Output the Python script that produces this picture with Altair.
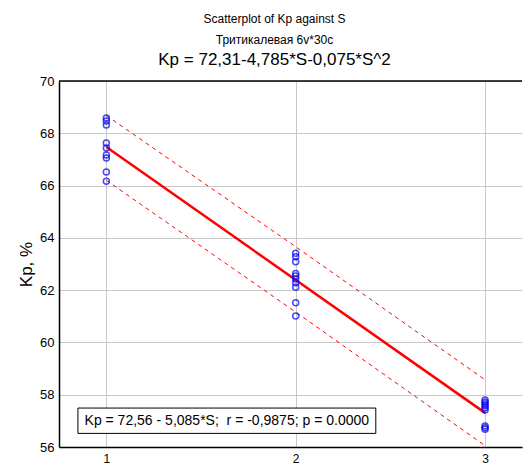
import altair as alt
import pandas as pd

# --- data ---
s_groups = [1, 2, 3]
kp_s1 = [68.58, 68.47, 68.32, 67.63, 67.44, 67.17, 67.05, 66.52, 66.17]
kp_s2 = [63.41, 63.28, 63.09, 62.64, 62.54, 62.43, 62.28, 62.11, 61.52, 61.01]
kp_s3 = [57.80, 57.72, 57.65, 57.58, 57.50, 57.42, 56.80, 56.74, 56.68]

fit_x = [1, 3]
fit_y = [67.475, 57.305]

band_x = [1, 2, 3]
band_upper = [68.68, 63.66, 58.57]
band_lower = [66.20, 61.16, 56.05]

title_lines = ["Scatterplot of Kp against S", "Тритикалевая 6v*30c"]
subtitle = "Kp = 72,31-4,785*S-0,075*S^2"
note = "Kp = 72,56 - 5,085*S;\u00a0\u00a0r = -0,9875; p = 0.0000"
y_title = "Kp, %"
x_ticks = [1, 2, 3]
y_ticks = [56, 58, 60, 62, 64, 66, 68, 70]

pts = pd.DataFrame(
    {"S": [1] * len(kp_s1) + [2] * len(kp_s2) + [3] * len(kp_s3),
     "Kp": kp_s1 + kp_s2 + kp_s3}
)
fit = pd.DataFrame({"S": fit_x, "Kp": fit_y})
bands = pd.DataFrame(
    {"S": band_x + band_x,
     "Kp": band_upper + band_lower,
     "band": ["upper"] * 3 + ["lower"] * 3}
)
note_df = pd.DataFrame({"x1": [0.85], "x2": [2.423], "y1": [56.52], "y2": [57.49],
                        "xc": [1.636], "yc": [57.0], "t": [note]})

FONT = "Liberation Sans"
W, H = 463, 366

xs = alt.Scale(domain=[0.75, 3.195], nice=False, zero=False)
ys = alt.Scale(domain=[56, 70], nice=False, zero=False)

xax = alt.Axis(values=x_ticks, title=None, grid=True, gridColor="#c8c8c8",
               domainColor="black", domainWidth=1.5, tickColor="black",
               tickSize=0, labelFontSize=12, labelPadding=6, labelColor="black",
               labelFont=FONT, format="d")
yax = alt.Axis(values=y_ticks, title=y_title, grid=True, gridColor="#c8c8c8",
               domainColor="black", domainWidth=1.5, tickSize=0, labelPadding=5,
               labelFontSize=13, labelColor="black", labelFont=FONT,
               titleFont=FONT, titleFontSize=17, titleFontWeight="normal",
               titleColor="black", titlePadding=4)

base_pts = alt.Chart(pts).mark_point(
    shape="circle", filled=False, color="#0000ee", size=36, strokeWidth=1.5
).encode(x=alt.X("S:Q", scale=xs, axis=xax), y=alt.Y("Kp:Q", scale=ys, axis=yax))

band_lines = alt.Chart(bands).mark_line(
    color="#ff0000", strokeWidth=1, strokeDash=[4, 4]
).encode(x=alt.X("S:Q", scale=xs), y=alt.Y("Kp:Q", scale=ys), detail="band:N")

fit_line = alt.Chart(fit).mark_line(color="#ff0000", strokeWidth=2.5).encode(
    x=alt.X("S:Q", scale=xs), y=alt.Y("Kp:Q", scale=ys)
)

note_box = alt.Chart(note_df).mark_rect(fill="white", stroke="black", strokeWidth=1).encode(
    x=alt.X("x1:Q", scale=xs), x2="x2:Q", y=alt.Y("y1:Q", scale=ys), y2="y2:Q"
)
note_text = alt.Chart(note_df).mark_text(font=FONT, fontSize=14, color="black").encode(
    x=alt.X("xc:Q", scale=xs), y=alt.Y("yc:Q", scale=ys), text="t:N"
)

top_rule = alt.Chart(note_df).mark_rule(color="black", strokeWidth=1.5).encode(
    x=alt.value(0), x2=alt.value(W), y=alt.value(0)
)

chart = alt.layer(
    band_lines, fit_line, base_pts, note_box, note_text, top_rule
).properties(
    width=W, height=H,
    autosize=alt.AutoSizeParams(type="none"),
    padding={"left": 59, "top": 81, "right": 1, "bottom": 19},
    title=alt.TitleParams(
        text=title_lines, subtitle=subtitle, anchor="middle", dx=-16,
        font=FONT, fontSize=12, fontWeight="normal", color="black", lineHeight=21,
        subtitleFont=FONT, subtitleFontSize=17, subtitleColor="black",
        subtitlePadding=5, offset=6
    ),
).configure_view(stroke=None)

chart.save("out.html", embed_options={"renderer": "svg", "actions": False})
